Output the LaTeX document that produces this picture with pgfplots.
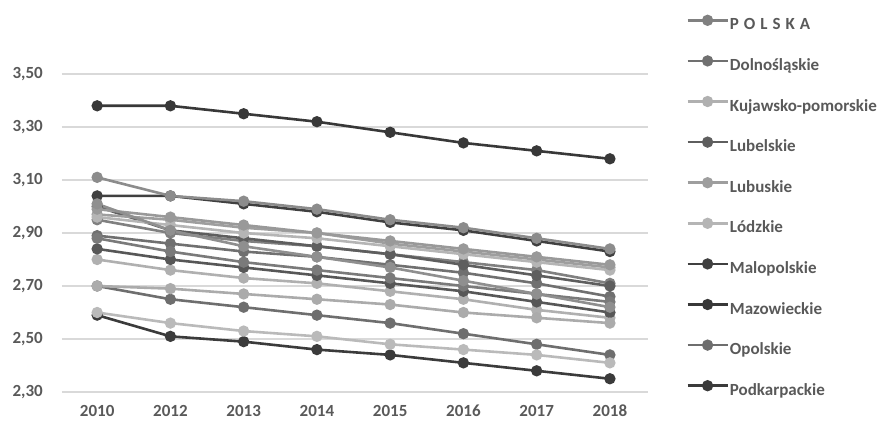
\documentclass[border=0pt]{standalone}
\usepackage{pgfplots}
\pgfplotsset{compat=1.18}
\usepackage{pgfplotstable}
\usepackage{fontspec}
\setmainfont{Carlito}

\definecolor{ticktext}{HTML}{595959}
\definecolor{gridc}{HTML}{D9D9D9}

% average household size by voivodeship, 2010-2018
\pgfplotstableread{
idx  POL   DOL   KUJ   LUBE  LUBU  LOD   MAL   MAZ   OPO   PODK  PODL  POM   SLA   SWI   WAR   WIE   ZAC
0    2.95  2.89  2.80  3.00  2.97  2.96  3.04  3.38  2.70  2.59  3.11  2.99  2.84  2.60  2.70  2.88  3.01
1    2.90  2.86  2.76  2.91  2.95  2.93  3.04  3.38  2.65  2.51  3.04  2.96  2.80  2.56  2.69  2.83  2.91
2    2.87  2.83  2.73  2.88  2.92  2.90  3.01  3.35  2.62  2.49  3.02  2.93  2.77  2.53  2.67  2.79  2.85
3    2.85  2.81  2.71  2.85  2.90  2.88  2.98  3.32  2.59  2.46  2.99  2.90  2.74  2.51  2.65  2.76  2.81
4    2.82  2.78  2.68  2.82  2.86  2.85  2.94  3.28  2.56  2.44  2.95  2.87  2.71  2.48  2.63  2.73  2.77
5    2.79  2.75  2.65  2.78  2.83  2.82  2.91  3.24  2.52  2.41  2.92  2.84  2.68  2.46  2.60  2.70  2.72
6    2.76  2.71  2.61  2.74  2.80  2.79  2.87  3.21  2.48  2.38  2.88  2.81  2.64  2.44  2.58  2.67  2.67
7    2.71  2.66  2.58  2.70  2.77  2.76  2.83  3.18  2.44  2.35  2.84  2.78  2.60  2.41  2.56  2.64  2.62
}\households

\pgfplotsset{
  region/.style={color=#1, line width=2.6pt, mark=*, mark size=4.3pt,
    mark options={solid, fill=#1, draw=#1}},
}

\begin{document}
\begin{tikzpicture}[x=1pt,y=1pt]
\begin{axis}[
  at={(0,0)}, anchor=south west,
  scale only axis, width=586pt, height=371pt,
  xmin=-0.48, xmax=7.52, ymin=2.30, ymax=3.70,
  axis line style={draw=none},
  major tick length=0pt,
  xtick={0,...,7},
  xticklabels={2010,2012,2013,2014,2015,2016,2017,2018},
  ytick={2.3,2.5,2.7,2.9,3.1,3.3,3.5},
  ymajorgrids,
  grid style={color=gridc, line width=1.3pt},
  /pgf/number format/assume math mode=true,
  /pgf/number format/fixed,
  /pgf/number format/fixed zerofill,
  /pgf/number format/precision=2,
  /pgf/number format/use comma,
  tick label style={font=\fontsize{17}{20}\selectfont\bfseries, text=ticktext, inner sep=0pt},
  yticklabel style={anchor=east, xshift=-19pt},
  xticklabel style={anchor=north, yshift=-13pt},
  legend style={draw=none, fill=none, at={(1.065,1.014)}, anchor=north west,
    inner sep=0pt, row sep=21.8pt,
    font=\fontsize{17}{20}\selectfont\bfseries, text=ticktext,
    nodes={text height=12pt, text depth=4pt, inner sep=1pt}},
  legend cell align=left,
  legend image code/.code={
    \draw[mark repeat=2, mark phase=2, #1] plot coordinates {(0pt,5.5pt) (20pt,5.5pt) (40pt,5.5pt)};
  },
]
\addplot[region=black!50]  table[x=idx, y=POL]  {\households};
\addlegendentry{P\hspace{5pt}O\hspace{5pt}L\hspace{5pt}S\hspace{5pt}K\hspace{5pt}A}
\addplot[region=black!56]  table[x=idx, y=DOL]  {\households};
\addlegendentry{Dolnośląskie}
\addplot[region=black!31]  table[x=idx, y=KUJ]  {\households};
\addlegendentry{Kujawsko-pomorskie}
\addplot[region=black!63]  table[x=idx, y=LUBE] {\households};
\addlegendentry{Lubelskie}
\addplot[region=black!38]  table[x=idx, y=LUBU] {\households};
\addlegendentry{Lubuskie}
\addplot[region=black!29]  table[x=idx, y=LOD]  {\households};
\addlegendentry{Lódzkie}
\addplot[region=black!75]  table[x=idx, y=MAL]  {\households};
\addlegendentry{Malopolskie}
\addplot[region=black!78]  table[x=idx, y=MAZ]  {\households};
\addlegendentry{Mazowieckie}
\addplot[region=black!57]  table[x=idx, y=OPO]  {\households};
\addlegendentry{Opolskie}
\addplot[region=black!77]  table[x=idx, y=PODK] {\households};
\addlegendentry{Podkarpackie}
% remaining voivodeships, not listed in the legend
\addplot[region=black!45, forget plot] table[x=idx, y=PODL] {\households};
\addplot[region=black!40, forget plot] table[x=idx, y=POM]  {\households};
\addplot[region=black!66, forget plot] table[x=idx, y=SLA]  {\households};
\addplot[region=black!27, forget plot] table[x=idx, y=SWI]  {\households};
\addplot[region=black!33, forget plot] table[x=idx, y=WAR]  {\households};
\addplot[region=black!52, forget plot] table[x=idx, y=WIE]  {\households};
\addplot[region=black!44, forget plot] table[x=idx, y=ZAC]  {\households};
\end{axis}
% page frame: 886 x 421 around the axis box
\pgfresetboundingbox
\path (-62,-29) rectangle (824,392);
\end{tikzpicture}
\end{document}
